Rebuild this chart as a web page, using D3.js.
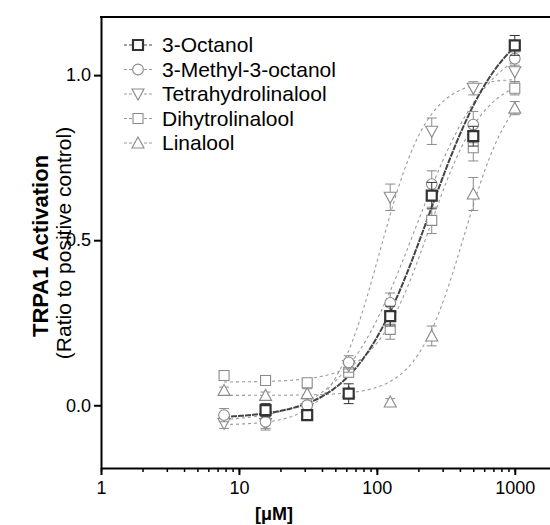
<!DOCTYPE html>
<html>
<head>
<meta charset="utf-8">
<script src="https://cdn.jsdelivr.net/npm/d3@7"></script>
<style>
  body { margin: 0; background: #fff; }
  text { font-family: "Liberation Sans", Arial, sans-serif; }
</style>
</head>
<body>
<div id="root"></div>
<script>
// concentrations (uM)
var conc = [7.8, 15.6, 31.25, 62.5, 125, 250, 500, 1000];
var compounds = ["3-Octanol", "3-Methyl-3-octanol", "Tetrahydrolinalool", "Dihytrolinalool", "Linalool"];

// mean responses (null = not measured)
var octanol      = [null, -0.015, -0.03, 0.035, 0.27, 0.635, 0.815, 1.09];
var methylOctanol = [-0.03, -0.05, 0.0, 0.13, 0.31, 0.67, 0.85, 1.05];
var tetrahydro   = [-0.055, -0.055, -0.01, 0.12, 0.63, 0.83, 0.96, 1.01];
var dihydro      = [0.09, 0.075, 0.068, 0.10, 0.23, 0.56, 0.78, 0.96];
var linalool     = [0.045, 0.03, 0.035, 0.04, 0.01, 0.21, 0.64, 0.90];

// SEM
var octanolErr  = [0, 0.02, 0.015, 0.03, 0.03, 0.04, 0.03, 0.03];
var methylErr   = [0.02, 0.02, 0.02, 0.02, 0.03, 0.04, 0.04, 0.02];
var tetraErr    = [0.015, 0.02, 0.02, 0.02, 0.04, 0.04, 0.02, 0.03];
var dihydroErr  = [0.01, 0.01, 0.01, 0.015, 0.03, 0.04, 0.04, 0.02];
var linaloolErr = [0.01, 0.01, 0.015, 0.01, 0.01, 0.03, 0.05, 0.02];

// sigmoidal fit parameters: bottom, top, EC50, hill
var fitBottom = [-0.04, -0.05, -0.06, 0.07, 0.03];
var fitTop    = [1.2, 1.12, 0.99, 1.0, 1.0];
var fitEC50   = [240, 190, 105, 240, 430];
var fitHill   = [1.6, 1.6, 2.5, 2.2, 2.5];

var xTickLabels = [1, 10, 100, 1000];
var yTickLabels = [0.0, 0.5, 1.0];

var width = 550, height = 525;
var svg = d3.select("#root").append("svg")
    .attr("width", width)
    .attr("height", height);

var x = d3.scaleLog().domain([1, 1800]).range([101, 550]);
var y = d3.scaleLinear().domain([-0.19, 1.176]).range([468, 17]);

var series = [
  { name: compounds[0], vals: octanol, err: octanolErr, shape: "square", dark: true },
  { name: compounds[1], vals: methylOctanol, err: methylErr, shape: "circle" },
  { name: compounds[2], vals: tetrahydro, err: tetraErr, shape: "down" },
  { name: compounds[3], vals: dihydro, err: dihydroErr, shape: "square" },
  { name: compounds[4], vals: linalool, err: linaloolErr, shape: "up" }
];

function markerPath(shape) {
  if (shape == "square") return "M-5,-5H5V5H-5Z";
  if (shape == "circle") return d3.symbol(d3.symbolCircle, 90)();
  if (shape == "down") return "M-6,-5L6,-5L0,6Z";
  return "M0,-6L6,5L-6,5Z";
}

var lineGen = d3.line()
  .x(function (d) { return x(d[0]); })
  .y(function (d) { return y(d[1]); });

// fitted curves, light ones first so 3-Octanol sits on top
var order = [4, 3, 2, 1, 0];
order.forEach(function (i) {
  var s = series[i];
  var pts = [];
  var lo = Math.log10(conc[0]), hi = Math.log10(conc[conc.length - 1]);
  for (var k = 0; k <= 120; k++) {
    var c = Math.pow(10, lo + (hi - lo) * k / 120);
    var v = fitBottom[i] + (fitTop[i] - fitBottom[i]) / (1 + Math.pow(fitEC50[i] / c, fitHill[i]));
    pts.push([c, v]);
  }
  svg.append("path")
    .datum(pts)
    .attr("d", lineGen)
    .attr("fill", "none")
    .attr("stroke", s.dark ? "#444" : "#9a9a9a")
    .attr("stroke-width", s.dark ? 2 : 1.1)
    .attr("stroke-dasharray", s.dark ? "6,1" : "3,3");
});

// points with error bars
order.forEach(function (i) {
  var s = series[i];
  var col = s.dark ? "#333" : "#8a8a8a";
  var data = conc.map(function (c, j) { return { c: c, v: s.vals[j], e: s.err[j] }; })
    .filter(function (d) { return d.v !== null; });
  var g = svg.append("g");
  var pts = g.selectAll("g").data(data).enter().append("g")
    .attr("transform", function (d) { return "translate(" + x(d.c) + "," + y(d.v) + ")"; });
  pts.append("path")
    .attr("d", function (d) { return "M0," + (y(d.v + d.e) - y(d.v)) + "V" + (y(d.v - d.e) - y(d.v)) +
      "M-5," + (y(d.v + d.e) - y(d.v)) + "H5M-5," + (y(d.v - d.e) - y(d.v)) + "H5"; })
    .attr("stroke", col)
    .attr("stroke-width", 1)
    .attr("fill", "none");
  pts.append("path")
    .attr("d", markerPath(s.shape))
    .attr("fill", "#fff")
    .attr("stroke", col)
    .attr("stroke-width", s.dark ? 2.2 : 1.1);
});

// axes
var minorTicks = [];
[1, 10, 100, 1000].forEach(function (d) {
  for (var m = 1; m < 10; m++) if (d * m <= 1800) minorTicks.push(d * m);
});

svg.append("g")
  .attr("transform", "translate(0,468)")
  .call(d3.axisBottom(x).tickValues(minorTicks).tickSize(4).tickFormat(""))
  .call(function (g) { g.select(".domain").remove(); g.selectAll("line").attr("stroke-width", 1.5); });

var xAxis = svg.append("g")
  .attr("transform", "translate(0,468)")
  .call(d3.axisBottom(x).tickValues(xTickLabels).tickSize(7).tickSizeOuter(0).tickPadding(6)
    .tickFormat(d3.format("d")));
xAxis.select(".domain").attr("stroke-width", 2);
xAxis.selectAll("line").attr("stroke-width", 2);
xAxis.selectAll("text").attr("font-size", 18).attr("fill", "#000")
  .attr("font-family", "Liberation Sans, Arial, sans-serif");

var yAxis = svg.append("g")
  .attr("transform", "translate(101,0)")
  .call(d3.axisLeft(y).tickValues(yTickLabels).tickSize(7).tickSizeOuter(0).tickPadding(3)
    .tickFormat(d3.format(".1f")));
yAxis.select(".domain").attr("stroke-width", 2);
yAxis.selectAll("line").attr("stroke-width", 2);
yAxis.selectAll("text").attr("font-size", 18).attr("fill", "#000")
  .attr("font-family", "Liberation Sans, Arial, sans-serif");

// top frame line
svg.append("line")
  .attr("x1", 100).attr("x2", 550).attr("y1", 17).attr("y2", 17)
  .attr("stroke", "#000").attr("stroke-width", 2);

// axis titles
svg.append("text")
  .attr("x", 274).attr("y", 520)
  .attr("text-anchor", "middle")
  .attr("font-size", 18).attr("font-weight", "bold")
  .text("[\u03BCM]");

svg.append("text")
  .attr("transform", "translate(48,246) rotate(-90)")
  .attr("text-anchor", "middle")
  .attr("font-size", 22).attr("font-weight", "bold")
  .text("TRPA1 Activation");

svg.append("text")
  .attr("transform", "translate(71,243) rotate(-90)")
  .attr("text-anchor", "middle")
  .attr("font-size", 21)
  .text("(Ratio to positive control)");

// legend
var legend = svg.append("g");
series.forEach(function (s, i) {
  var ly = 45 + i * 24.5;
  var col = s.dark ? "#333" : "#8a8a8a";
  legend.append("line")
    .attr("x1", 124).attr("x2", 152).attr("y1", ly).attr("y2", ly)
    .attr("stroke", s.dark ? "#444" : "#9a9a9a")
    .attr("stroke-width", 1)
    .attr("stroke-dasharray", "3,2");
  legend.append("path")
    .attr("transform", "translate(138," + ly + ")")
    .attr("d", markerPath(s.shape))
    .attr("fill", "#fff")
    .attr("stroke", col)
    .attr("stroke-width", s.dark ? 2.2 : 1.1);
  legend.append("text")
    .attr("x", 162).attr("y", ly + 7)
    .attr("font-size", 21)
    .text(s.name);
});
</script>
</body>
</html>
